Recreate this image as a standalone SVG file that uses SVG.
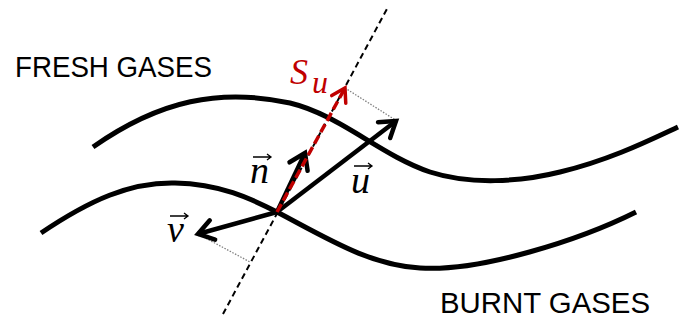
<svg xmlns="http://www.w3.org/2000/svg" width="679" height="323" viewBox="0 0 679 323">
<style>
.front{fill:none;stroke:#000;stroke-width:5;stroke-linecap:butt}
.vec{fill:none;stroke:#000;stroke-width:4.5}
.lbl{font-family:"Liberation Serif","DejaVu Serif",serif;font-style:italic;font-size:38px;fill:#000}
.gas{font-family:"Liberation Sans",Arial,sans-serif;font-size:30px;fill:#000}
.dot{fill:none;stroke:#808080;stroke-width:1.3;stroke-dasharray:1.5 1.5}
.acc{fill:none;stroke:#000;stroke-width:1.3}
</style>
<defs>
<marker id="chev" markerUnits="userSpaceOnUse" orient="auto" refX="0" refY="0" markerWidth="40" markerHeight="40" viewBox="-25 -20 40 40" overflow="visible">
<path d="M-15,-10 L0,0 L-15,10" fill="none" stroke="#000" stroke-width="4.5" stroke-linejoin="miter" stroke-linecap="round"/>
</marker>
<marker id="chevr" markerUnits="userSpaceOnUse" orient="auto" refX="0" refY="0" markerWidth="40" markerHeight="40" viewBox="-25 -20 40 40" overflow="visible">
<path d="M-13,-8 L0,0 L-13,8" fill="none" stroke="#C00000" stroke-width="3.5" stroke-linejoin="miter" stroke-linecap="round"/>
</marker>
</defs>
<g id="fronts">
<path id="front-upper" class="front" d="M93,147 C160,100 220,88 290,103 C340,115 380,155 430,172 C470,185 520,182 560,172 C610,160 650,140 678,127"/>
<path id="front-lower" class="front" d="M41,233 C90,200 130,182 175,183 C220,184 250,198 277,212 C330,240 370,265 420,268 C480,272 580,240 636,212"/>
</g>
<g id="connectors">
<line id="normal-line" x1="223" y1="314" x2="388" y2="7" stroke="#000" stroke-width="2" stroke-dasharray="6 4"/>
<line class="dot" x1="345" y1="88" x2="397" y2="121"/>
<line class="dot" x1="198" y1="234" x2="250" y2="262"/>
<line id="vec-u" class="vec" x1="277" y1="212" x2="396" y2="121" marker-end="url(#chev)"/>
<line id="vec-n" class="vec" x1="277" y1="212" x2="305" y2="153" marker-end="url(#chev)"/>
<line id="vec-v" class="vec" x1="277" y1="212" x2="198" y2="234" marker-end="url(#chev)"/>
<line id="vec-su" x1="277" y1="212" x2="345" y2="88" stroke="#C00000" stroke-width="3.5" stroke-dasharray="9 4" marker-end="url(#chevr)"/>
</g>
<g id="label-fresh"><text class="gas" x="15" y="77" textLength="197" lengthAdjust="spacingAndGlyphs">FRESH GASES</text></g>
<g id="label-burnt"><text class="gas" x="440" y="313" textLength="210" lengthAdjust="spacingAndGlyphs">BURNT GASES</text></g>
<g id="label-n">
<text class="lbl" x="250" y="183">n</text>
<path class="acc" d="M253,157 H271 M267,154 L271,157 L267,160"/>
</g>
<g id="label-u">
<text class="lbl" x="351" y="193">u</text>
<path class="acc" d="M354,166 H372 M368,163 L372,166 L368,169"/>
</g>
<g id="label-v">
<text class="lbl" x="167" y="242">v</text>
<path class="acc" d="M170,216 H188 M184,213 L188,216 L184,219"/>
</g>
<g id="label-su">
<text x="290" y="84" font-family="Liberation Serif, DejaVu Serif, serif" font-style="italic" font-size="36" fill="#C00000">S<tspan x="312" y="93" font-size="32">u</tspan></text>
</g>
</svg>
